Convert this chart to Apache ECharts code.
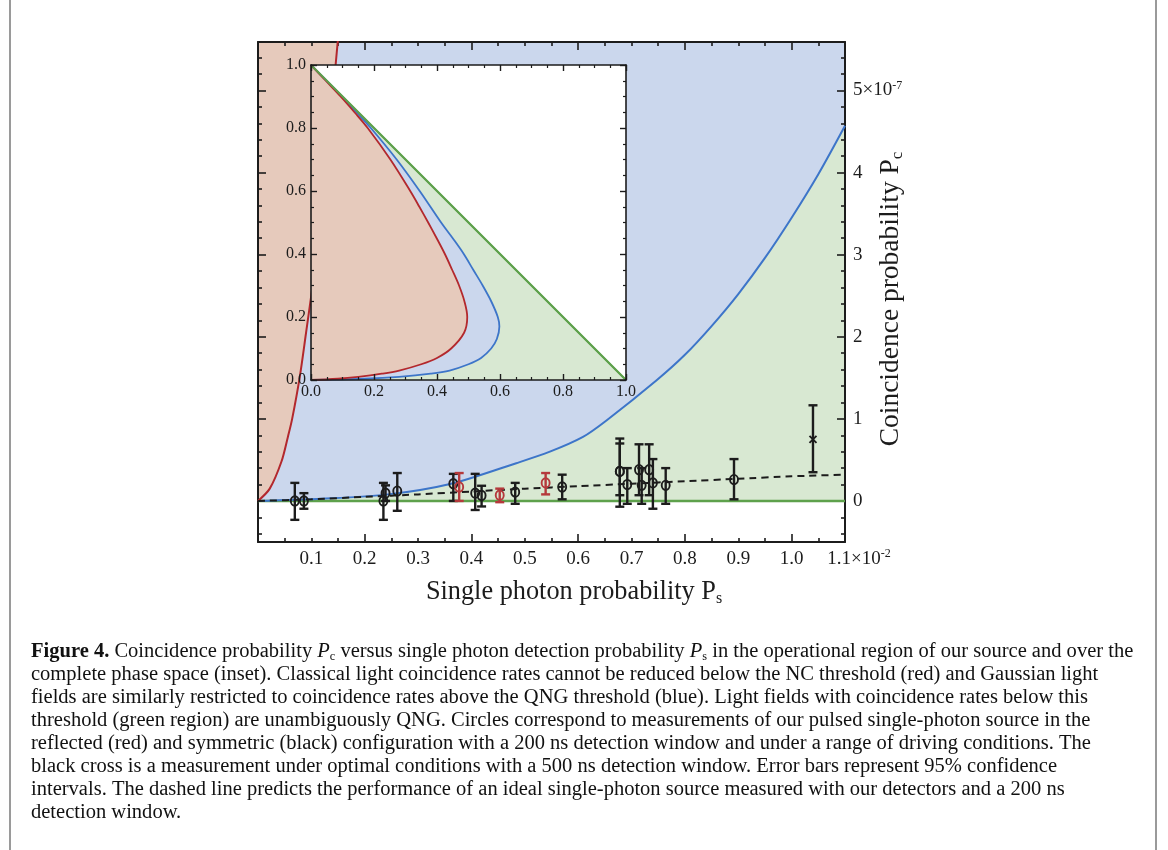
<!DOCTYPE html>
<html>
<head>
<meta charset="utf-8">
<title>Coincidence probability</title>
<script src="https://cdn.jsdelivr.net/npm/echarts@6/dist/echarts.min.js"></script>
<style>
  html, body { margin: 0; padding: 0; background: #fff; }
  #main { width: 1168px; height: 850px; }
</style>
</head>
<body>
<div id="main"></div>
<script>
// main plot: Ps in units of 1e-2, Pc in units of 1e-7
var xTickLabels = [0.1, 0.2, 0.3, 0.4, 0.5, 0.6, 0.7, 0.8, 0.9, 1.0];
var xLastLabel = [1.1];
var xMajorTicks = [0.2, 0.4, 0.6, 0.8, 1.0];
var yTickLabels = [0, 1, 2, 3, 4, 5];

// NC threshold (red)
var ncX = [0, 0.022, 0.044, 0.056, 0.064, 0.078, 0.089, 0.110, 0.126, 0.141, 0.153];
var ncY = [0, 0.15, 0.48, 0.78, 1.0, 1.5, 2.0, 3.0, 4.0, 5.0, 5.85];
// QNG threshold (blue)
var qngX = [0, 0.12, 0.244, 0.362, 0.484, 0.547, 0.609, 0.653, 0.747, 0.80, 0.85, 0.90, 0.95, 1.00, 1.05, 1.10];
var qngY = [0, 0.027, 0.08, 0.21, 0.46, 0.60, 0.78, 0.98, 1.47, 1.78, 2.13, 2.52, 2.96, 3.45, 3.98, 4.57];
// ideal single-photon source (dashed)
var idealX = [0, 0.1, 0.2, 0.3, 0.4, 0.5, 0.6, 0.7, 0.8, 0.9, 1.0, 1.1];
var idealY = [0, 0.02, 0.05, 0.08, 0.115, 0.15, 0.18, 0.21, 0.24, 0.27, 0.30, 0.32];

// symmetric configuration (black circles)
var symX  = [0.069, 0.086, 0.235, 0.239, 0.261, 0.366, 0.407, 0.419, 0.482, 0.570, 0.678, 0.678, 0.692, 0.714, 0.719, 0.733, 0.740, 0.764, 0.892];
var symY  = [0.00, 0.00, 0.00, 0.095, 0.12, 0.21, 0.095, 0.067, 0.107, 0.17, 0.36, 0.36, 0.20, 0.38, 0.19, 0.38, 0.22, 0.19, 0.26];
var symLo = [-0.23, -0.095, -0.23, 0.00, -0.12, 0.00, -0.11, -0.067, -0.035, 0.02, -0.07, 0.07, -0.035, 0.07, -0.035, 0.07, -0.095, -0.035, 0.02];
var symHi = [0.22, 0.095, 0.22, 0.19, 0.34, 0.33, 0.33, 0.185, 0.22, 0.32, 0.76, 0.70, 0.40, 0.69, 0.40, 0.69, 0.51, 0.40, 0.51];
// reflected configuration (red circles)
var refX  = [0.377, 0.453, 0.539];
var refY  = [0.17, 0.07, 0.22];
var refLo = [0.00, -0.015, 0.08];
var refHi = [0.34, 0.15, 0.34];
// 500 ns window (black cross)
var crossX  = [1.040];
var crossY  = [0.75];
var crossLo = [0.35];
var crossHi = [1.165];

// inset: complete phase space
var insetNcX  = [0, 0.085, 0.15, 0.225, 0.28, 0.35, 0.40, 0.445, 0.486, 0.496, 0.487, 0.470, 0.448, 0.425, 0.399, 0.372, 0.344, 0.315, 0.252, 0.180, 0.138, 0.094, 0.047, 0];
var insetNcY  = [0, 0.004, 0.01, 0.02, 0.03, 0.05, 0.07, 0.10, 0.15, 0.20, 0.25, 0.30, 0.35, 0.40, 0.45, 0.50, 0.55, 0.60, 0.70, 0.80, 0.85, 0.90, 0.95, 1];
var insetQngX = [0, 0.17, 0.28, 0.38, 0.44, 0.50, 0.54, 0.572, 0.59, 0.598, 0.593, 0.572, 0.545, 0.515, 0.485, 0.45, 0.413, 0.345, 0.272, 0.19, 0.144, 0.098, 0.049, 0];
var insetQngY = [0, 0.004, 0.01, 0.02, 0.03, 0.05, 0.07, 0.10, 0.13, 0.17, 0.20, 0.25, 0.30, 0.35, 0.40, 0.45, 0.50, 0.60, 0.70, 0.80, 0.85, 0.90, 0.95, 1];
var insetEdgeX = [0, 1];
var insetEdgeY = [1, 0];
var insetTicks = [0, 0.2, 0.4, 0.6, 0.8, 1.0];

var serif = "'Liberation Serif', 'Times New Roman', serif";
var ink = '#1c1c1c';
var fillRed = '#e6cabc', fillBlue = '#cbd7ed', fillGreen = '#d8e8d2';
var lineRed = '#b3282d', lineBlue = '#3d75c9', lineGreen = '#5ea14c', markRed = '#b5393c';

function zip(xs, ys) {
    return xs.map(function (x, i) { return [x, ys[i]]; });
}
function zip4(xs, ys, lo, hi) {
    return xs.map(function (x, i) { return [x, ys[i], lo[i], hi[i]]; });
}
function steps(from, to, step, skip) {
    var out = [];
    for (var k = 0; from + k * step <= to + 1e-9; k++) {
        var v = +(from + k * step).toFixed(4);
        if (skip.indexOf(v) < 0) out.push(v);
    }
    return out;
}

var xMinorTicks = steps(0.05, 1.05, 0.05, xMajorTicks);
var yMinorTicks = steps(-0.4, 5.4, 0.2, yTickLabels);

function errorBars(color, mark) {
    return function (params, api) {
        var x = api.value(0);
        var c = api.coord([x, api.value(1)]);
        var lo = api.coord([x, api.value(2)]);
        var hi = api.coord([x, api.value(3)]);
        var s = { stroke: color, lineWidth: 2.4, fill: null };
        var w = 4.5;
        var kids = [
            { type: 'line', shape: { x1: lo[0], y1: lo[1], x2: hi[0], y2: hi[1] }, style: s },
            { type: 'line', shape: { x1: lo[0] - w, y1: lo[1], x2: lo[0] + w, y2: lo[1] }, style: s },
            { type: 'line', shape: { x1: hi[0] - w, y1: hi[1], x2: hi[0] + w, y2: hi[1] }, style: s }
        ];
        if (mark === 'circle') {
            kids.push({ type: 'ellipse', shape: { cx: c[0], cy: c[1], rx: 4, ry: 4.7 },
                        style: { stroke: color, lineWidth: 1.9, fill: 'none' } });
        } else {
            var d = 3.5;
            var cs = { stroke: color, lineWidth: 1.9 };
            kids.push({ type: 'line', shape: { x1: c[0] - d, y1: c[1] - d, x2: c[0] + d, y2: c[1] + d }, style: cs });
            kids.push({ type: 'line', shape: { x1: c[0] - d, y1: c[1] + d, x2: c[0] + d, y2: c[1] - d }, style: cs });
        }
        return { type: 'group', children: kids };
    };
}

var rich = {
    a: { fontFamily: serif, fontSize: 19, lineHeight: 22, color: ink },
    p: { fontFamily: serif, fontSize: 19, lineHeight: 22, color: ink, padding: [0, 0, 0, 28] },
    sup: { fontFamily: serif, fontSize: 12, lineHeight: 10, verticalAlign: 'top', color: ink }
};

function axisBase(extra) {
    var a = {
        type: 'value', z: 3,
        splitLine: { show: false },
        axisLine: { show: true, onZero: false, lineStyle: { color: ink, width: 2 } },
        axisLabel: { show: false },
        axisTick: { show: true, inside: true, length: 4, lineStyle: { color: ink, width: 1.6 } }
    };
    for (var k in extra) a[k] = extra[k];
    return a;
}
var noLine = { show: false, onZero: false };
function ticks(len, values, width) {
    return { show: true, inside: true, length: len, customValues: values, lineStyle: { color: ink, width: width || 1.6 } };
}
var insetLine = { show: true, onZero: false, lineStyle: { color: ink, width: 1.6 } };
var insetTick = { show: true, inside: true, length: 6, lineStyle: { color: ink, width: 1.4 } };
var insetMinor = { show: true, splitNumber: 4, length: 3, lineStyle: { color: ink, width: 1.2 } };

var xAxes = [
    axisBase({ gridIndex: 0, position: 'bottom', min: 0, max: 1.1,
        axisTick: ticks(4, xMinorTicks),
        axisLabel: { show: true, customValues: xTickLabels, margin: 6, rich: rich,
            showMinLabel: true, showMaxLabel: true, hideOverlap: false,
            fontFamily: serif, fontSize: 19, color: ink,
            formatter: function (v) { return '{a|' + v.toFixed(1) + '}'; } } }),
    axisBase({ gridIndex: 0, position: 'bottom', min: 0, max: 1.1, axisLine: noLine, axisTick: ticks(8, xMajorTicks) }),
    axisBase({ gridIndex: 0, position: 'top', min: 0, max: 1.1, axisTick: ticks(4, xMinorTicks) }),
    axisBase({ gridIndex: 0, position: 'top', min: 0, max: 1.1, axisLine: noLine, axisTick: ticks(8, xMajorTicks) }),
    axisBase({ gridIndex: 1, position: 'bottom', min: 0, max: 1, interval: 0.2, z: 7,
        axisLine: insetLine, axisTick: insetTick, minorTick: insetMinor,
        axisLabel: { show: true, customValues: insetTicks, margin: 4, fontFamily: serif, fontSize: 16, color: ink,
            showMinLabel: true, showMaxLabel: true,
            formatter: function (v) { return v.toFixed(1); } } }),
    axisBase({ gridIndex: 1, position: 'top', min: 0, max: 1, interval: 0.2, z: 7,
        axisLine: insetLine, axisTick: insetTick, minorTick: insetMinor }),
    // the scaled last label carries the ×10^-2 factor
    axisBase({ gridIndex: 0, position: 'bottom', min: 0, max: 1.1, axisLine: noLine, axisTick: { show: false },
        axisLabel: { show: true, customValues: xLastLabel, margin: 6, rich: rich,
            showMinLabel: true, showMaxLabel: true, hideOverlap: false,
            fontFamily: serif, fontSize: 19, color: ink,
            formatter: function (v) { return '{p|' + v.toFixed(1) + '}{a|×10}{sup|-2}'; } } })
];

var yAxes = [
    axisBase({ gridIndex: 0, position: 'right', min: -0.5, max: 5.59,
        axisTick: ticks(4, yMinorTicks),
        axisLabel: { show: true, customValues: yTickLabels, margin: 8, rich: rich,
            showMinLabel: true, showMaxLabel: true,
            fontFamily: serif, fontSize: 19, color: ink,
            formatter: function (v) { return v === 5 ? '{a|5×10}{sup|-7}' : '{a|' + v + '}'; } } }),
    axisBase({ gridIndex: 0, position: 'right', min: -0.5, max: 5.59, axisLine: noLine, axisTick: ticks(8, yTickLabels) }),
    axisBase({ gridIndex: 0, position: 'left', min: -0.5, max: 5.59, axisTick: ticks(4, yMinorTicks) }),
    axisBase({ gridIndex: 0, position: 'left', min: -0.5, max: 5.59, axisLine: noLine, axisTick: ticks(8, yTickLabels) }),
    axisBase({ gridIndex: 1, position: 'left', min: 0, max: 1, interval: 0.2, z: 7,
        axisLine: insetLine, axisTick: insetTick, minorTick: insetMinor,
        axisLabel: { show: true, customValues: insetTicks, margin: 5, fontFamily: serif, fontSize: 16, color: ink,
            showMinLabel: true, showMaxLabel: true,
            formatter: function (v) { return v.toFixed(1); } } }),
    axisBase({ gridIndex: 1, position: 'right', min: 0, max: 1, interval: 0.2, z: 7,
        axisLine: insetLine, axisTick: insetTick, minorTick: insetMinor })
];

function curve(name, data, color, width, extra) {
    var s = {
        name: name, type: 'line', data: data, showSymbol: false, symbol: 'none',
        smooth: 0.3, animation: false, silent: true,
        lineStyle: { color: color, width: width }
    };
    for (var k in extra) s[k] = extra[k];
    return s;
}

var captionLines = [
    '{b|Figure 4.} Coincidence probability {i|P}{sub|c} versus single photon detection probability {i|P}{sub|s} in the operational region of our source and over the',
    'complete phase space (inset). Classical light coincidence rates cannot be reduced below the NC threshold (red) and Gaussian light',
    'fields are similarly restricted to coincidence rates above the QNG threshold (blue). Light fields with coincidence rates below this',
    'threshold (green region) are unambiguously QNG. Circles correspond to measurements of our pulsed single-photon source in the',
    'reflected (red) and symmetric (black) configuration with a 200 ns detection window and under a range of driving conditions. The',
    'black cross is a measurement under optimal conditions with a 500 ns detection window. Error bars represent 95% confidence',
    'intervals. The dashed line predicts the performance of an ideal single-photon source measured with our detectors and a 200 ns',
    'detection window.'
];

var capFont = 20;
var capRich = {
    b: { fontFamily: serif, fontSize: capFont, fontWeight: 'bold', lineHeight: 22, fill: '#111' },
    i: { fontFamily: serif, fontSize: capFont, fontStyle: 'italic', lineHeight: 22, fill: '#111' },
    sub: { fontFamily: serif, fontSize: 12, lineHeight: 13, verticalAlign: 'bottom', fill: '#111' }
};

var graphics = captionLines.map(function (t, i) {
    return { type: 'text', x: 31, y: 652 + i * 23, scaleX: 1.026, silent: true,
        style: { text: t, rich: capRich, fontFamily: serif, fontSize: capFont, fill: '#111',
                 lineHeight: 22, textVerticalAlign: 'middle' } };
});
graphics.push({ type: 'text', x: 574, y: 592, silent: true,
    style: { text: 'Single photon probability P{sub|s}',
             rich: { sub: { fontFamily: serif, fontSize: 16, lineHeight: 18, verticalAlign: 'bottom', fill: ink } },
             fontFamily: serif, fontSize: 26.3, lineHeight: 30, fill: ink, textAlign: 'center', textVerticalAlign: 'middle' } });
graphics.push({ type: 'text', x: 891, y: 299, rotation: Math.PI / 2, silent: true,
    style: { text: 'Coincidence probability P{sub|c}',
             rich: { sub: { fontFamily: serif, fontSize: 17, lineHeight: 19, verticalAlign: 'bottom', fill: ink } },
             fontFamily: serif, fontSize: 27.5, lineHeight: 31, fill: ink, textAlign: 'center', textVerticalAlign: 'middle' } });
graphics.push({ type: 'line', silent: true, shape: { x1: 10, y1: 0, x2: 10, y2: 850 }, style: { stroke: '#9a9a9a', lineWidth: 2 } });
graphics.push({ type: 'line', silent: true, shape: { x1: 1156, y1: 0, x2: 1156, y2: 850 }, style: { stroke: '#9a9a9a', lineWidth: 2 } });

var chart = echarts.init(document.getElementById('main'), null, { renderer: 'canvas' });
chart.setOption({
    animation: false,
    backgroundColor: '#fff',
    textStyle: { fontFamily: serif },
    grid: [
        { left: 258, top: 42, width: 587, height: 500, outerBoundsMode: 'none' },
        { left: 311, top: 65, width: 315, height: 315, show: true, backgroundColor: '#fff',
          borderWidth: 0, z: 5, outerBoundsMode: 'none' }
    ],
    xAxis: xAxes,
    yAxis: yAxes,
    graphic: graphics,
    series: [
        // main plot regions
        curve('green region', [[0, 0], [1.1, 0]], lineGreen, 2.5,
              { smooth: false, areaStyle: { color: fillGreen, opacity: 1, origin: 'end' } }),
        curve('QNG threshold', zip(qngX, qngY), lineBlue, 2,
              { areaStyle: { color: fillBlue, opacity: 1, origin: 'end' } }),
        curve('NC threshold', zip(ncX, ncY), lineRed, 2,
              { areaStyle: { color: fillRed, opacity: 1, origin: 'end' } }),
        curve('ideal source', zip(idealX, idealY), ink, 2, { smooth: 0.2, lineStyle: { color: ink, width: 2, type: [7, 5] } }),
        { name: 'symmetric', type: 'custom', z: 4, silent: true, renderItem: errorBars(ink, 'circle'),
          data: zip4(symX, symY, symLo, symHi) },
        { name: 'reflected', type: 'custom', z: 4, silent: true, renderItem: errorBars(markRed, 'circle'),
          data: zip4(refX, refY, refLo, refHi) },
        { name: '500 ns', type: 'custom', z: 4, silent: true, renderItem: errorBars(ink, 'cross'),
          data: zip4(crossX, crossY, crossLo, crossHi) },
        // inset
        curve('inset green', zip(insetEdgeX, insetEdgeY), lineGreen, 1.8,
              { xAxisIndex: 4, yAxisIndex: 4, z: 6, smooth: false, areaStyle: { color: fillGreen, opacity: 1 } }),
        curve('inset blue', zip(insetQngX, insetQngY), lineBlue, 1.8,
              { xAxisIndex: 4, yAxisIndex: 4, z: 6, smooth: 0.35, areaStyle: { color: fillBlue, opacity: 1 } }),
        curve('inset red', zip(insetNcX, insetNcY), lineRed, 1.8,
              { xAxisIndex: 4, yAxisIndex: 4, z: 6, smooth: 0.35, areaStyle: { color: fillRed, opacity: 1 } }),
        curve('inset edge', zip(insetEdgeX, insetEdgeY), lineGreen, 1.8,
              { xAxisIndex: 4, yAxisIndex: 4, z: 6, smooth: false })
    ]
});
</script>
</body>
</html>
